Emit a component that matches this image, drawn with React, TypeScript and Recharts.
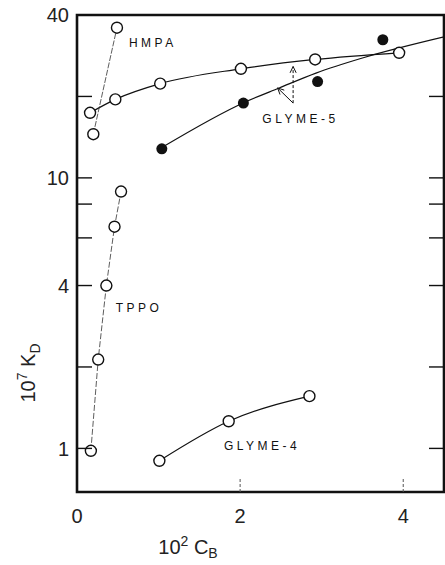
import {
  ComposedChart,
  Line,
  Scatter,
  XAxis,
  YAxis,
  ReferenceArea,
  ReferenceDot,
  ReferenceLine,
} from 'recharts';

// values (x = 10^2 C_B, y = 10^7 K_D)
const hmpaX = [0.2, 0.49];
const hmpaY = [14.5, 35.9];

const glyme5OpenX = [0.16, 0.47, 1.02, 2.01, 2.92, 3.95];
const glyme5OpenY = [17.4, 19.5, 22.3, 25.3, 27.4, 29.0];

const glyme5FilledX = [1.04, 2.04, 2.95, 3.75];
const glyme5FilledY = [12.8, 18.9, 22.7, 32.4];

// smooth curve drawn through the filled points
const glyme5FitX = [1.05, 2.05, 2.48, 2.93, 3.51, 4.5];
const glyme5FitY = [13.0, 19.0, 21.5, 24.4, 27.8, 33.2];

const tppoX = [0.17, 0.26, 0.36, 0.46, 0.54];
const tppoY = [0.98, 2.13, 4.0, 6.6, 8.9];

const glyme4X = [1.01, 1.86, 2.85];
const glyme4Y = [0.9, 1.26, 1.56];

const yTicks = [1, 2, 4, 6, 8, 10, 20, 40];
const yLabelled = [1, 4, 10, 40];
const xTicks = [0, 2, 4];

const xDomain = [0, 4.5];
const yDomain = [0.69, 40];

const FONT = '"Liberation Sans", Arial, sans-serif';
const INK = '#111';

const zip = (xs: number[], ys: number[]) => xs.map((x, i) => ({ x, y: ys[i] }));

// open circle marker, drawn solid even on dashed lines
const openDot = (p: any) => (
  <circle key={p.index} cx={p.cx} cy={p.cy} r={5.5} fill="#fff" stroke={INK} strokeWidth={1.4} />
);

function LeftTick({ x, y, payload }: any) {
  const v = payload.value;
  return (
    <g>
      <line x1={x} y1={y} x2={x + 15} y2={y} stroke={INK} strokeWidth={1.4} />
      {yLabelled.includes(v) && (
        <text x={x - 8} y={y} dy="0.36em" textAnchor="end" fontSize={20} fill="#222" fontFamily={FONT}>
          {v}
        </text>
      )}
    </g>
  );
}

function RightTick({ x, y }: any) {
  return <line x1={x} y1={y} x2={x - 15} y2={y} stroke={INK} strokeWidth={1.4} />;
}

function BottomTick({ x, y, payload }: any) {
  const v = payload.value;
  return (
    <g>
      {v > 0 && <line x1={x} y1={y} x2={x} y2={y - 14} stroke="#555" strokeWidth={1} strokeDasharray="3 2" />}
      <text x={x} y={y + 24} dy="0.36em" textAnchor="middle" fontSize={20} fill="#222" fontFamily={FONT}>
        {v}
      </text>
    </g>
  );
}

const tag = (text: string) => (props: any) => {
  const { x, y } = props.viewBox;
  return (
    <text x={x} y={y} dy="0.36em" textAnchor="middle" fontSize={12} letterSpacing={3.5} fill={INK} fontFamily={FONT}>
      {text}
    </text>
  );
};

const arrow = (dashed: boolean) => (p: any) => {
  const { x1, y1, x2, y2 } = p;
  const a = Math.atan2(y2 - y1, x2 - x1);
  const len = 7;
  const w = 0.45;
  const head = [
    [x2 - len * Math.cos(a - w), y2 - len * Math.sin(a - w)],
    [x2, y2],
    [x2 - len * Math.cos(a + w), y2 - len * Math.sin(a + w)],
  ]
    .map(q => q.join(','))
    .join(' ');
  return (
    <g>
      <line x1={x1} y1={y1} x2={x2} y2={y2} stroke={INK} strokeWidth={1} strokeDasharray={dashed ? '3 2' : undefined} />
      <polyline points={head} fill="none" stroke={INK} strokeWidth={1} />
    </g>
  );
};

// annotation anchors (data units)
const arrowFrom = { x: 2.65, y: 18.9 };
const arrowToOpen = { x: 2.65, y: 25.8 };
const arrowToFit = { x: 2.46, y: 21.5 };

const tags = [
  { text: 'HMPA', x: 0.93, y: 31.7 },
  { text: 'GLYME-5', x: 2.74, y: 16.5 },
  { text: 'TPPO', x: 0.76, y: 3.31 },
  { text: 'GLYME-4', x: 2.27, y: 1.02 },
];

function YTitle(props: any) {
  const { x, y } = props.viewBox;
  const cx = x + 28;
  const cy = y + 358;
  return (
    <text
      x={cx}
      y={cy}
      dy="0.36em"
      textAnchor="middle"
      transform={`rotate(-90 ${cx} ${cy})`}
      fontSize={20}
      fill="#222"
      fontFamily={FONT}
    >
      10
      <tspan dy={-8} fontSize={14}>7</tspan>
      <tspan dy={8}> K</tspan>
      <tspan dy={5} fontSize={14}>D</tspan>
    </text>
  );
}

function XTitle(props: any) {
  const { x, y } = props.viewBox;
  return (
    <text x={x + 111} y={y + 62} textAnchor="middle" fontSize={20} fill="#222" fontFamily={FONT}>
      10
      <tspan dy={-8} fontSize={14}>2</tspan>
      <tspan dy={8}> C</tspan>
      <tspan dy={4} fontSize={14}>B</tspan>
    </text>
  );
}

export default function App() {
  return (
    <div style={{ position: 'absolute', left: 0, top: 0, background: '#fff' }}>
      <ComposedChart width={445} height={565} margin={{ top: 15, right: 0, bottom: 0, left: 0 }}>
        <XAxis
          dataKey="x"
          type="number"
          domain={xDomain}
          allowDataOverflow
          ticks={xTicks}
          tick={<BottomTick />}
          tickLine={false}
          axisLine={false}
          tickSize={0}
          tickMargin={0}
          height={73}
          label={{ content: XTitle }}
        />
        <YAxis
          dataKey="y"
          type="number"
          scale="log"
          domain={yDomain}
          allowDataOverflow
          ticks={yTicks}
          tick={<LeftTick />}
          tickLine={false}
          axisLine={false}
          tickSize={0}
          tickMargin={0}
          width={77}
          label={{ content: YTitle }}
        />
        <YAxis
          yAxisId="r"
          orientation="right"
          dataKey="y"
          type="number"
          scale="log"
          domain={yDomain}
          allowDataOverflow
          ticks={yTicks}
          tick={<RightTick />}
          tickLine={false}
          axisLine={false}
          tickSize={0}
          tickMargin={0}
          width={1}
        />

        {/* plot frame */}
        <ReferenceArea
          x1={xDomain[0]}
          x2={xDomain[1]}
          y1={yDomain[0]}
          y2={yDomain[1]}
          fill="none"
          fillOpacity={0}
          stroke={INK}
          strokeWidth={2.6}
          ifOverflow="visible"
        />

        <ReferenceLine segment={[arrowFrom, arrowToOpen]} shape={arrow(true)} />
        <ReferenceLine segment={[arrowFrom, arrowToFit]} shape={arrow(false)} />

        <Line
          data={zip(glyme5FitX, glyme5FitY)}
          dataKey="y"
          type="monotone"
          stroke={INK}
          strokeWidth={1.2}
          dot={false}
          activeDot={false}
          isAnimationActive={false}
        />
        <Line
          data={zip(glyme5OpenX, glyme5OpenY)}
          dataKey="y"
          type="monotone"
          stroke={INK}
          strokeWidth={1.2}
          dot={openDot}
          activeDot={false}
          isAnimationActive={false}
        />
        <Line
          data={zip(hmpaX, hmpaY)}
          dataKey="y"
          type="linear"
          stroke="#333"
          strokeWidth={0.8}
          strokeDasharray="6 1.5"
          dot={openDot}
          activeDot={false}
          isAnimationActive={false}
        />
        <Line
          data={zip(tppoX, tppoY)}
          dataKey="y"
          type="linear"
          stroke="#333"
          strokeWidth={0.8}
          strokeDasharray="6 2"
          dot={openDot}
          activeDot={false}
          isAnimationActive={false}
        />
        <Line
          data={zip(glyme4X, glyme4Y)}
          dataKey="y"
          type="monotone"
          stroke={INK}
          strokeWidth={1.2}
          dot={openDot}
          activeDot={false}
          isAnimationActive={false}
        />
        <Scatter
          data={zip(glyme5FilledX, glyme5FilledY)}
          dataKey="y"
          fill={INK}
          shape={(p: any) => <circle cx={p.cx} cy={p.cy} r={5.5} fill={INK} />}
          isAnimationActive={false}
        />

        {tags.map(t => (
          <ReferenceDot key={t.text} x={t.x} y={t.y} r={0} fill="none" stroke="none" label={{ content: tag(t.text) }} />
        ))}
      </ComposedChart>
    </div>
  );
}
